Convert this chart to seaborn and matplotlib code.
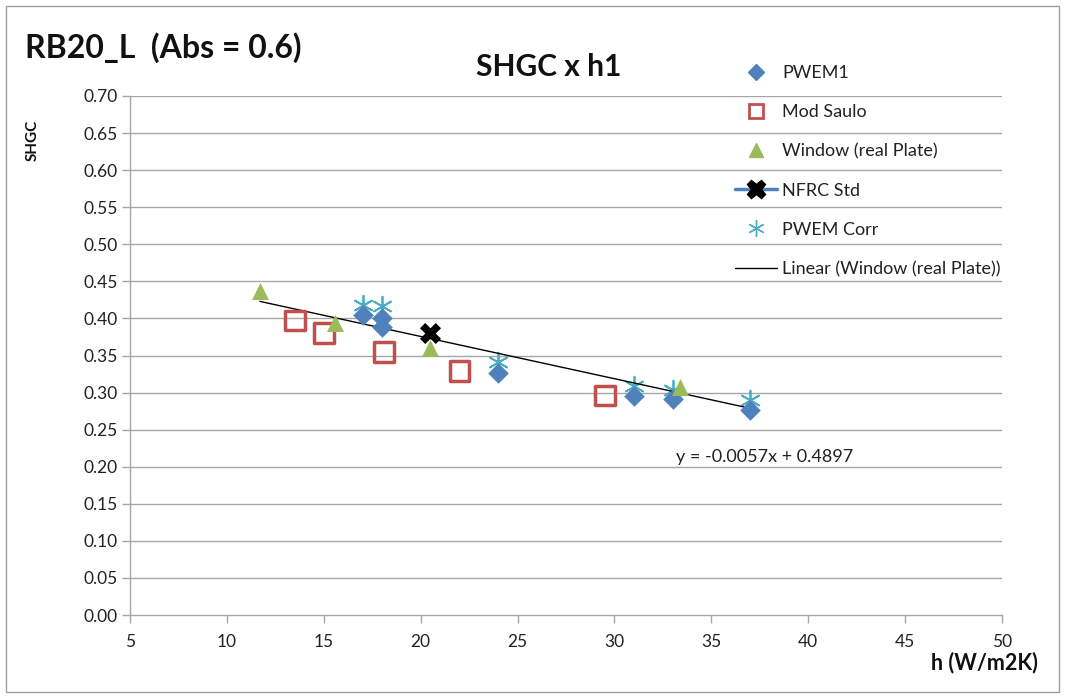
import matplotlib
matplotlib.use("Agg")
import matplotlib.pyplot as plt
import seaborn as sns
import numpy as np
import pandas as pd

# ---- data ----
pwem1_h = [17, 18, 18, 24, 31, 33, 37]
pwem1_shgc = [0.404, 0.401, 0.388, 0.326, 0.296, 0.291, 0.276]

saulo_h = [13.5, 15.0, 18.1, 22.0, 29.5]
saulo_shgc = [0.397, 0.380, 0.355, 0.329, 0.296]

window_h = [11.7, 15.6, 20.5, 33.4]
window_shgc = [0.437, 0.394, 0.360, 0.308]

nfrc_h = [20.5]
nfrc_shgc = [0.380]

corr_h = [17, 18, 24, 31, 33, 37]
corr_shgc = [0.418, 0.417, 0.341, 0.309, 0.303, 0.290]

trend_slope = -0.0057
trend_intercept = 0.4897
trend_range = [11.7, 37]

x_ticks = [5, 10, 15, 20, 25, 30, 35, 40, 45, 50]
y_ticks = [0.00, 0.05, 0.10, 0.15, 0.20, 0.25, 0.30, 0.35, 0.40, 0.45,
           0.50, 0.55, 0.60, 0.65, 0.70]

# ---- style ----
sns.set_style("white")
plt.rcParams['font.family'] = ['Lato', 'DejaVu Sans']

fig = plt.figure(figsize=(10.65, 6.98), dpi=100)
ax = fig.add_axes([130/1065, 1-615/698, (1002-130)/1065, (615-96)/698])

BLUE = "#4F81BD"
RED = "#C0504D"
GREEN = "#9BBB59"
LBLUE = "#4BACC6"

grid_c = "#A6A6A6"
for y in y_ticks[1:]:
    ax.axhline(y, color=grid_c, lw=1.0, zorder=0)

df1 = pd.DataFrame({"h": pwem1_h, "s": pwem1_shgc})
df2 = pd.DataFrame({"h": saulo_h, "s": saulo_shgc})
df3 = pd.DataFrame({"h": window_h, "s": window_shgc})
df4 = pd.DataFrame({"h": nfrc_h, "s": nfrc_shgc})
df5 = pd.DataFrame({"h": corr_h, "s": corr_shgc})

tx = np.array(trend_range)
dft = pd.DataFrame({"h": tx, "s": trend_slope * tx + trend_intercept})

sns.scatterplot(data=df5, x="h", y="s", ax=ax, marker=(6, 2, 0), s=200,
                color=LBLUE, linewidth=1.3, zorder=3, legend=False)
sns.scatterplot(data=df1, x="h", y="s", ax=ax, marker="D", s=110,
                color=BLUE, edgecolor=BLUE, linewidth=0, zorder=4, legend=False)
sns.scatterplot(data=df2, x="h", y="s", ax=ax, marker="s", s=200,
                facecolor="none", edgecolor=RED, linewidth=2.5, zorder=4, legend=False)
sns.scatterplot(data=df3, x="h", y="s", ax=ax, marker="^", s=150,
                color=GREEN, edgecolor=GREEN, linewidth=0, zorder=4, legend=False)
sns.scatterplot(data=df4, x="h", y="s", ax=ax, marker="X", s=230,
                color="black", edgecolor="black", linewidth=0, zorder=5, legend=False)
sns.lineplot(data=dft, x="h", y="s", ax=ax, color="black", lw=1.0, zorder=3, legend=False)

ax.text(33.2, 0.207, "y = -0.0057x + 0.4897", fontsize=13, color="#222222")

ax.set_xlim(5, 50)
ax.set_ylim(0, 0.70)
ax.set_xticks(x_ticks)
ax.set_yticks(y_ticks)
ax.set_xticklabels([str(v) for v in x_ticks], fontsize=12.5, color="#222222")
ax.set_yticklabels([f"{v:.2f}" for v in y_ticks], fontsize=12.5, color="#222222")
ax.tick_params(axis="x", length=6, width=1, color=grid_c, pad=8, direction="out", bottom=True)
ax.tick_params(axis="y", length=6, width=1, color=grid_c, pad=3, direction="out", left=True)
for sp in ["top", "right"]:
    ax.spines[sp].set_visible(False)
for sp in ["left", "bottom"]:
    ax.spines[sp].set_color(grid_c)
    ax.spines[sp].set_linewidth(1.0)
ax.set_xlabel("")
ax.set_ylabel("")

# legend
from matplotlib.lines import Line2D
handles = [
    Line2D([], [], ls="none", marker="D", ms=8, color=BLUE),
    Line2D([], [], ls="none", marker="s", ms=10, mfc="none", mec=RED, mew=2),
    Line2D([], [], ls="none", marker="^", ms=10, color=GREEN),
    Line2D([], [], ls="-", color=BLUE, lw=2.5, marker="X", ms=13, mfc="black", mec="black"),
    Line2D([], [], ls="none", marker=(6, 2, 0), ms=12, color=LBLUE, mew=1.0),
    Line2D([], [], ls="-", color="black", lw=1.0),
]
labels = ["PWEM1", "Mod Saulo", "Window (real Plate)", "NFRC Std", "PWEM Corr",
          "Linear (Window (real Plate))"]
leg = fig.legend(handles, labels, loc="upper left", bbox_to_anchor=(728/1065, 1-58/698),
                 frameon=False, fontsize=13, labelspacing=1.28, handlelength=2.3,
                 handletextpad=0.3, borderaxespad=0)
for t in leg.get_texts():
    t.set_color("#222222")

fig.text(25/1065, 1-48/698, "RB20_L  (Abs = 0.6)", fontsize=23, fontweight="bold",
         va="center", ha="left", color="#111111")
fig.text(549/1065, 1-67/698, "SHGC x h1", fontsize=21.5, fontweight="bold",
         va="center", ha="center", color="#111111")
fig.text(33/1065, 1-140/698, "SHGC", fontsize=11, fontweight="bold", rotation=90,
         va="center", ha="center", color="#111111")
fig.text(1038/1065, 1-663/698, "h (W/m2K)", fontsize=15.5, fontweight="bold",
         va="center", ha="right", color="#111111")

# outer frame
fig.add_artist(plt.Rectangle((6/1065, 6/698), 1-12/1065, 1-12/698, transform=fig.transFigure,
                             fill=False, edgecolor="#A0A0A0", lw=1.0))

fig.savefig("out.png", dpi=100)
